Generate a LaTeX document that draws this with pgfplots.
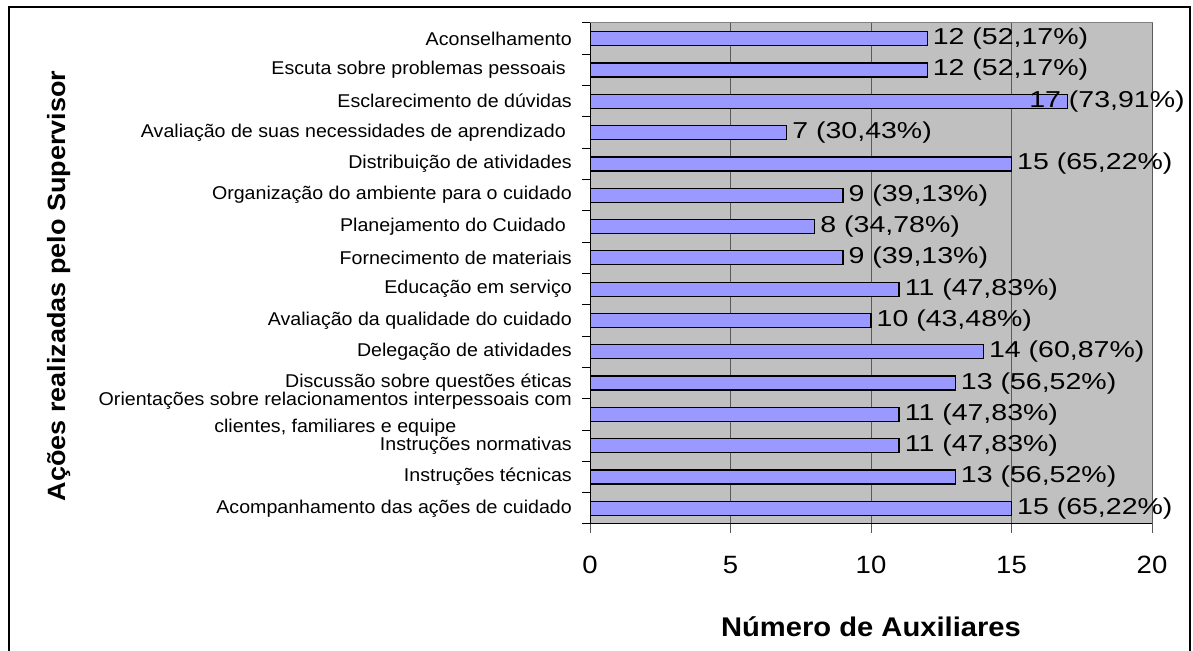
\documentclass[border=0pt]{standalone}
\usepackage{fontspec}
\setmainfont{Liberation Sans}
\newfontfamily\catfont[FakeStretch=1.06]{Liberation Sans}
\newfontfamily\numfont[FakeStretch=1.24]{Liberation Sans}
\newfontfamily\tickfont[FakeStretch=1.1]{Liberation Sans}
\newfontfamily\labfont[FakeStretch=1.08]{Liberation Sans}
\usepackage{pgfplots}
\pgfplotsset{compat=1.18}
\definecolor{barfill}{RGB}{153,153,255}
\definecolor{plotbg}{RGB}{192,192,192}
\definecolor{gridc}{RGB}{90,90,90}

\begin{document}
\begin{tikzpicture}[x=1pt,y=1pt]
\useasboundingbox (0,0) rectangle (1193,650);
\begin{scope}
  \clip (0,0) rectangle (1193,650);
  \draw[line width=2pt] (9,-20) rectangle (1190,643);
\end{scope}
\begin{axis}[
    at={(590pt,126pt)}, anchor=south west,
    scale only axis, width=562pt, height=501pt,
    xmin=0, xmax=20, ymin=-0.5, ymax=15.5,
    xbar, bar width=14pt, bar shift=0pt,
    axis x line*=bottom, axis y line*=left,
    axis line style={black, line width=1pt},
    axis background/.style={fill=plotbg, draw=gray, line width=1pt},
    xtick={0,5,10,15,20},
    xmajorgrids, major grid style={gridc, line width=0.8pt},
    ytick={0,...,15},
    minor ytick={-0.5,0.5,...,15.5},
    major y tick style={draw=none},
    minor y tick style={draw=black, line width=1pt},
    major x tick style={draw=gray!70!black, line width=1pt},
    tick align=outside,
    major tick length=9pt, minor tick length=8pt,
    /pgf/number format/assume math mode=true,
    xticklabel style={font=\tickfont\fontsize{25}{25}\selectfont, anchor=north, inner sep=0pt, yshift=-23pt},
    yticklabel style={font=\catfont\fontsize{18.5}{22}\selectfont, align=center, anchor=east, inner sep=0pt, xshift=-9pt},
    yticklabels={
        Acompanhamento das ações de cuidado,
        Instruções técnicas,
        Instruções normativas,
        {Orientações sobre relacionamentos interpessoais com\\[5pt]clientes, familiares e equipe},
        Discussão sobre questões éticas,
        Delegação de atividades,
        Avaliação da qualidade do cuidado,
        Educação em serviço,
        Fornecimento de materiais,
        Planejamento do Cuidado\hspace*{6pt},
        Organização do ambiente para o cuidado,
        Distribuição de atividades,
        Avaliação de suas necessidades de aprendizado\hspace*{6pt},
        Esclarecimento de dúvidas,
        Escuta sobre problemas pessoais\hspace*{6pt},
        Aconselhamento},
    xlabel={Número de Auxiliares},
    xlabel style={font=\labfont\bfseries\fontsize{27}{27}\selectfont, at={(axis description cs:0.5,-0.2056)}, anchor=center},
    ylabel={Ações realizadas pelo Supervisor},
    ylabel style={font=\labfont\bfseries\fontsize{25}{25}\selectfont, at={(axis description cs:-0.9448,0.475)}, anchor=center},
    nodes near coords,
    point meta=explicit symbolic,
    nodes near coords style={font=\numfont\fontsize{23}{23}\selectfont, text=black, inner sep=0pt, anchor=west, xshift=5pt},
]
\addplot[draw=black, fill=barfill, line width=1.3pt] coordinates {
    (15,0) [15 (65,22\%)]
    (13,1) [13 (56,52\%)]
    (11,2) [11 (47,83\%)]
    (11,3) [11 (47,83\%)]
    (13,4) [13 (56,52\%)]
    (14,5) [14 (60,87\%)]
    (10,6) [10 (43,48\%)]
    (11,7) [11 (47,83\%)]
    (9,8) [9 (39,13\%)]
    (8,9) [8 (34,78\%)]
    (9,10) [9 (39,13\%)]
    (15,11) [15 (65,22\%)]
    (7,12) [7 (30,43\%)]
    (12,14) [12 (52,17\%)]
    (12,15) [12 (52,17\%)]
};
\addplot[draw=black, fill=barfill, line width=1.3pt,
    nodes near coords style={xshift=-44pt}] coordinates {
    (17,13) [17 (73,91\%)]
};
\end{axis}
\end{tikzpicture}
\end{document}
